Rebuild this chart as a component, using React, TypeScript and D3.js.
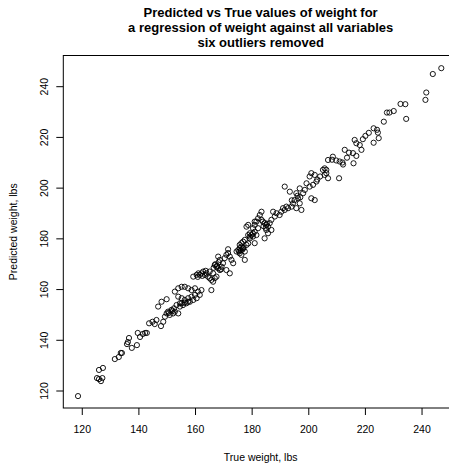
import React from 'react';
import * as d3 from 'd3';

const trueWeight = [
  118.5, 125.2, 125.9, 126.6, 127.1, 125.9, 127.3, 131.5, 132.9, 133.6, 134.0, 135.8, 136.1, 136.5, 137.5, 139.3, 139.6, 140.4, 141.4, 142.2, 142.8,
  143.6, 144.8, 145.6, 146.2, 146.8, 148.0, 147.8, 148.6, 149.2, 149.8, 150.3, 150.9, 151.5, 152.1, 152.7, 153.3, 153.9, 154.5, 155.1, 156.2, 157.4,
  149.8, 152.7, 153.9, 155.1, 156.2, 157.4, 158.6, 159.8, 153.9, 155.1, 156.2, 157.4, 158.6, 159.8, 160.9, 154.5, 155.6, 156.8, 158.0, 159.2, 160.4,
  161.5, 162.1, 165.6, 159.2, 160.4, 161.0, 161.5, 162.1, 162.7, 163.3, 163.9, 164.4, 165.0, 165.6, 166.2, 166.8, 167.4, 166.2, 165.0,
  166.8, 167.4, 168.0, 168.6, 169.2, 169.7, 168.6, 168.0, 170.3, 170.9, 171.5, 172.1, 172.7, 173.3, 172.1, 170.9, 177.4,
  174.5, 175.1, 175.6, 176.2, 176.8, 177.4, 175.6, 176.2, 178.0, 178.6, 178.0, 178.6, 179.2, 179.8, 180.3, 180.9, 181.5, 182.1, 180.9,
  206.8, 205.6, 206.2, 206.8, 205.0, 202.1, 200.9, 202.7, 201.5, 200.3, 199.2, 198.6, 198.0, 196.8, 195.6, 196.2, 196.8, 195.0, 194.4, 193.9,
  195.6, 197.4, 202.1, 200.9, 191.5, 193.3, 192.1, 192.7, 191.5, 190.9, 190.3, 189.7, 188.6, 187.4, 188.0, 186.8, 186.2, 185.6, 185.0, 184.4,
  183.8, 183.3, 182.7, 183.3, 182.1, 181.5, 180.9, 180.3, 179.2, 178.6, 177.4, 176.8, 176.2, 175.6, 171.5, 179.2, 180.3, 180.9, 184.4, 185.6,
  186.8, 185.0,
  243.8, 246.8, 241.5, 241.2, 234.1, 234.4, 232.4, 230.0, 228.5, 227.6, 226.5, 222.9, 224.1, 224.4, 224.7, 222.9, 216.2, 216.8, 218.0, 219.1,
  218.6, 215.6, 216.8, 212.7, 215.8, 208.5, 209.7, 210.9, 211.9, 208.2, 212.1, 210.7, 206.2, 205.6, 200.3,
  167.0, 167.6, 168.2, 166.4, 169.0, 176.0, 176.6, 177.0, 175.4, 184.0, 184.8, 185.2, 160.8, 162.4, 163.6, 150.6, 151.8, 152.4, 196.0, 197.0,
  194.0, 203.0, 204.0, 213.5, 214.2, 220.0, 221.2,
];

const predictedWeight = [
  118.0, 125.1, 124.7, 123.9, 125.1, 128.3, 129.1, 132.6, 133.4, 135.0, 135.0, 138.5, 139.3, 140.9, 137.0, 138.1, 142.9, 141.3, 142.5, 142.9, 142.9,
  146.7, 147.3, 146.4, 148.0, 153.3, 155.2, 145.6, 147.3, 149.3, 150.6, 151.3, 150.0, 152.0, 150.6, 151.3, 153.9, 150.6, 153.3, 154.6, 154.8, 155.2,
  156.2, 159.2, 160.5, 161.1, 161.1, 160.5, 159.8, 160.5, 157.2, 156.6, 155.9, 156.6, 157.2, 157.9, 159.2, 154.6, 153.9, 154.6, 155.2, 155.9, 156.6,
  157.9, 159.8, 159.8, 165.1, 165.8, 166.4, 165.8, 166.4, 167.1, 165.8, 166.4, 165.1, 164.5, 163.8, 163.1, 164.5, 165.1, 166.4, 167.1,
  169.7, 169.0, 168.4, 167.7, 169.0, 170.4, 171.7, 173.0, 172.4, 173.7, 174.4, 173.0, 171.7, 170.4, 166.4, 167.7, 171.7,
  175.0, 175.6, 176.3, 176.9, 176.3, 175.0, 174.3, 173.7, 177.6, 178.2, 184.8, 185.5, 180.2, 181.5, 182.1, 182.8, 181.5, 184.2, 186.8,
  211.1, 207.8, 205.9, 203.9, 207.2, 205.2, 205.9, 202.6, 201.3, 200.6, 201.9, 199.3, 198.0, 199.9, 198.0, 196.0, 194.0, 195.3, 194.0, 192.7,
  192.1, 191.4, 195.3, 196.0, 200.6, 198.6, 192.7, 192.1, 191.4, 192.1, 190.7, 189.4, 190.1, 190.7, 188.8, 187.5, 186.2, 184.8, 185.5, 186.2,
  186.8, 187.5, 189.4, 190.7, 188.1, 186.8, 185.5, 184.2, 182.2, 181.5, 179.6, 178.9, 178.3, 177.6, 175.9, 180.9, 180.9, 178.3, 180.2, 182.2,
  183.5, 183.5,
  245.0, 247.3, 237.7, 234.8, 233.1, 227.3, 233.2, 230.4, 229.8, 229.8, 226.2, 223.6, 223.0, 221.9, 219.7, 217.9, 219.0, 217.7, 217.0, 219.3,
  215.1, 213.8, 212.7, 215.1, 209.8, 212.4, 210.9, 210.5, 210.1, 211.2, 209.3, 203.9, 207.2, 205.2, 204.6,
  170.0, 169.4, 170.8, 168.6, 168.0, 175.4, 175.8, 176.6, 175.0, 185.0, 184.3, 186.0, 165.0, 165.4, 167.4, 150.8, 151.6, 152.6, 197.0, 196.4,
  195.2, 203.4, 204.6, 212.0, 214.0, 220.6, 221.8,
];

const xTicks = [120, 140, 160, 180, 200, 220, 240];
const yTicks = [120, 140, 160, 180, 200, 220, 240];
const titleLines = [
  'Predicted vs True values of weight for',
  'a regression of weight against all variables',
  'six outliers removed',
];
const xLabel = 'True weight, lbs';
const yLabel = 'Predicted weight, lbs';

export default function App() {
  const W = 449;
  const H = 465;
  const left = 63.3;
  const right = 458;
  const top = 55.5;
  const bottom = 408;
  const x = d3.scaleLinear().domain([113.3, 252.7]).range([left, right]);
  const y = d3.scaleLinear().domain([113.3, 252.3]).range([bottom, top]);
  const font = "'Liberation Sans', Arial, Helvetica, sans-serif";
  const cx = (left + right) / 2;
  const points = trueWeight.map((t, i) => ({ t, p: predictedWeight[i] }));

  return (
    <svg
      width={W}
      height={H}
      viewBox={`0 0 ${W} ${H}`}
      style={{ position: 'absolute', left: 0, top: 0, background: '#fff' }}
      fontFamily={font}
    >
      <rect x={0} y={0} width={W} height={H} fill="#fff" />
      {titleLines.map((s, i) => (
        <text key={i} x={cx} y={17 + i * 15} textAnchor="middle" fontWeight="bold" fontSize={13} fill="#000">
          {s}
        </text>
      ))}
      <rect x={left} y={top} width={right - left} height={bottom - top} fill="none" stroke="#000" strokeWidth={1} />
      {xTicks.map((v) => (
        <g key={'x' + v}>
          <line x1={x(v)} x2={x(v)} y1={bottom} y2={bottom + 7} stroke="#000" strokeWidth={1} />
          <text x={x(v)} y={433} textAnchor="middle" fontSize={10.5} fill="#000">
            {v}
          </text>
        </g>
      ))}
      {yTicks.map((v) => (
        <g key={'y' + v}>
          <line x1={left - 7} x2={left} y1={y(v)} y2={y(v)} stroke="#000" strokeWidth={1} />
          <text
            transform={`translate(48,${y(v)}) rotate(-90)`}
            textAnchor="middle"
            fontSize={10.5}
            fill="#000"
          >
            {v}
          </text>
        </g>
      ))}
      <text x={cx} y={461} textAnchor="middle" fontSize={10.5} fill="#000">
        {xLabel}
      </text>
      <text
        transform={`translate(17,${(top + bottom) / 2}) rotate(-90)`}
        textAnchor="middle"
        fontSize={10.5}
        fill="#000"
      >
        {yLabel}
      </text>
      {points.map((d, i) => (
        <circle key={i} cx={x(d.t)} cy={y(d.p)} r={2.6} fill="none" stroke="#000" strokeWidth={0.9} />
      ))}
    </svg>
  );
}
